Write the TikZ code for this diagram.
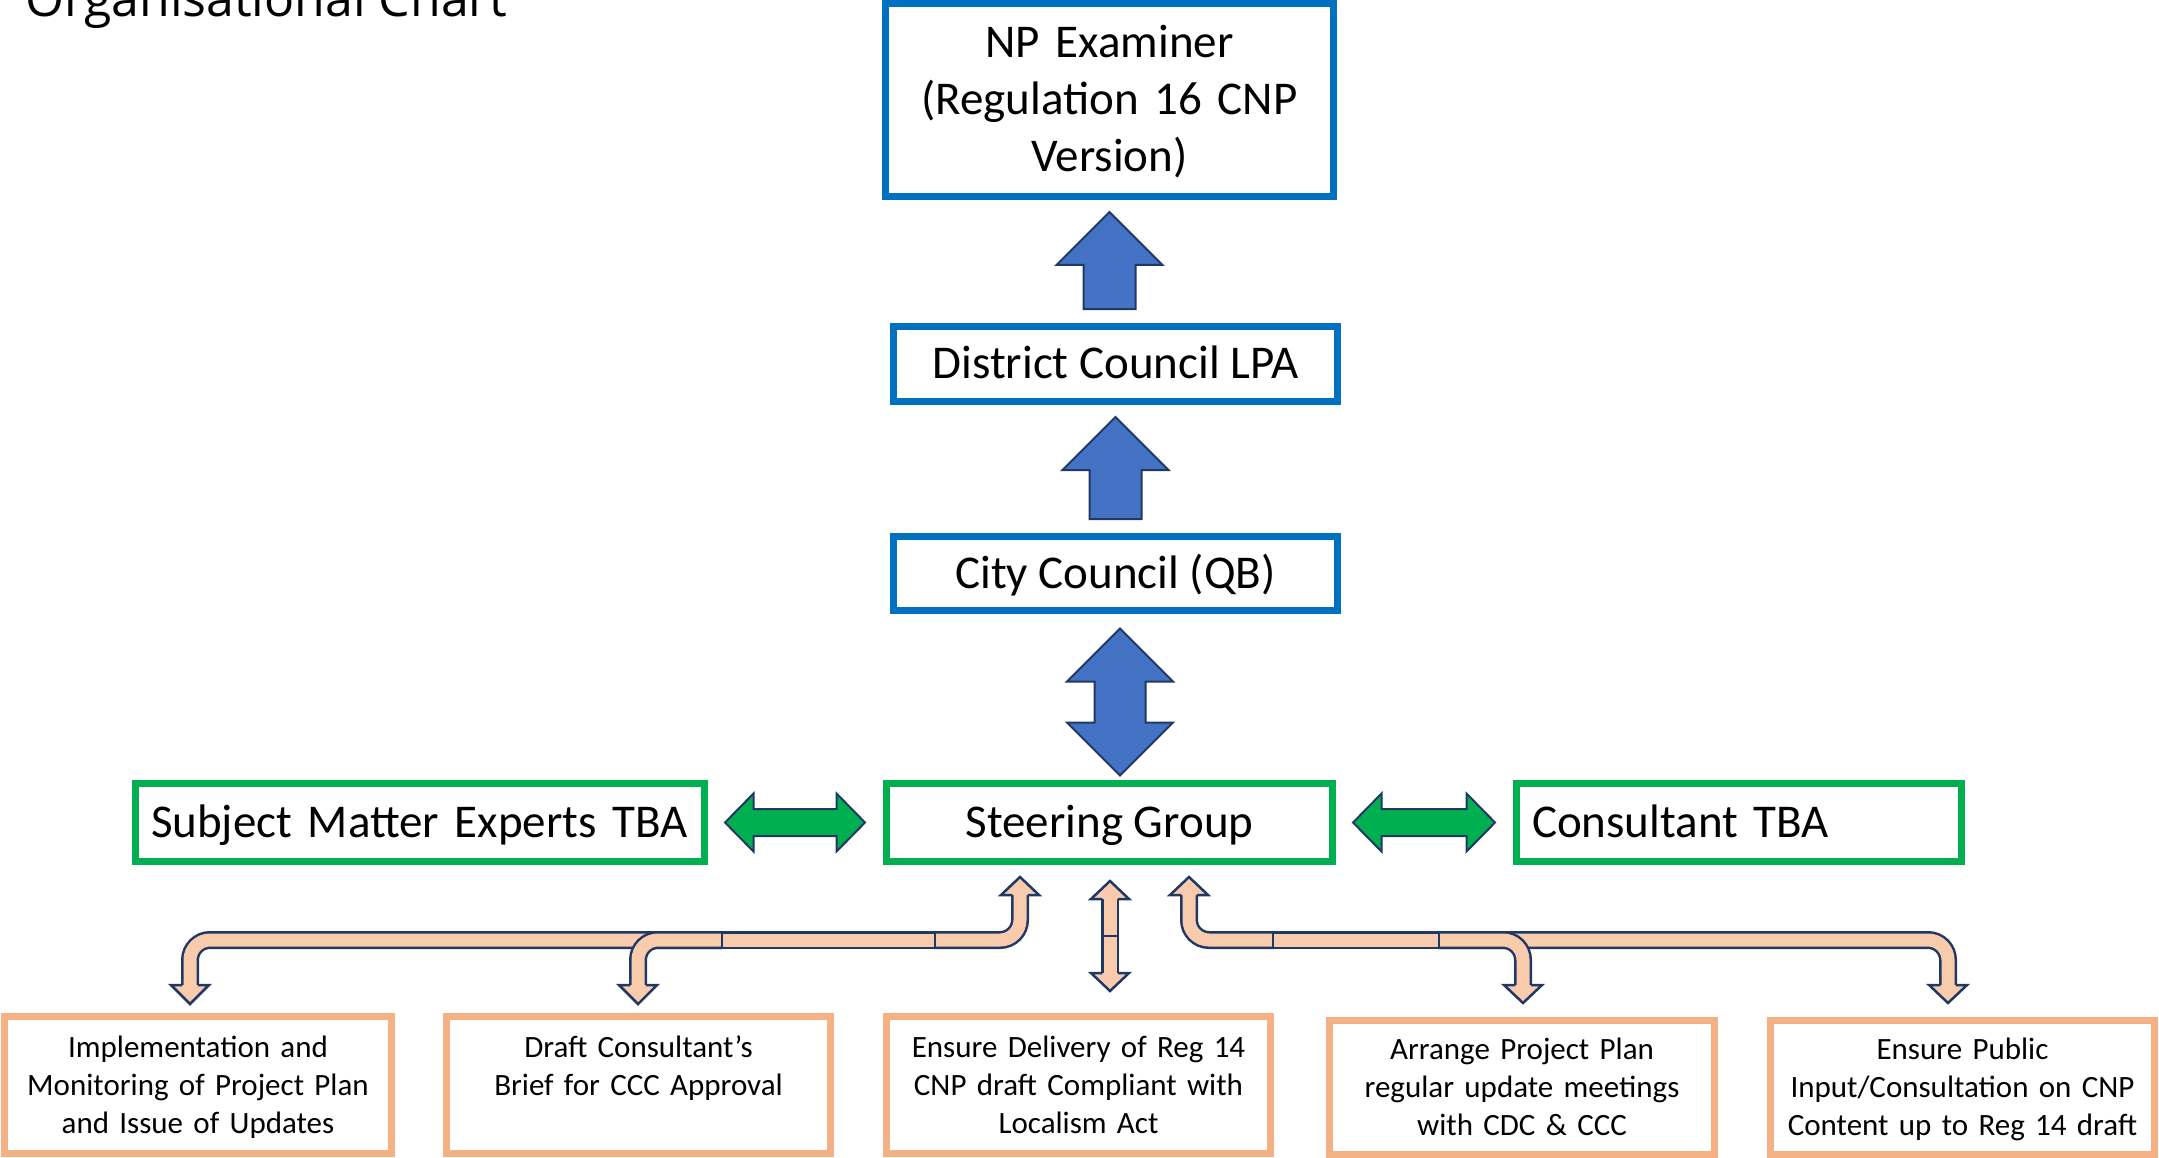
\documentclass[tikz,border=0pt]{standalone}
\usepackage{fontspec}
\setmainfont{Carlito}
\newfontfamily\titlefont{Open Sans}
\usetikzlibrary{calc}
\definecolor{bluebd}{HTML}{0070C0}
\definecolor{bluearrow}{HTML}{4472C4}
\definecolor{navy}{HTML}{1F3864}
\definecolor{greenc}{HTML}{00B050}
\definecolor{orangebd}{HTML}{F4B183}
\definecolor{peach}{HTML}{F8CBAD}

\newcommand\blockUp[2]{%
 \filldraw[blockarrow] let \p1=(#1.south), \p2=(#2.north) in
 ({\x1-26pt},{\y2+14pt}) -- ({\x1-26pt},{\y1-65pt}) -- ({\x1-53pt},{\y1-65pt}) -- (\x1,{\y1-12pt})
 -- ({\x1+53pt},{\y1-65pt}) -- ({\x1+26pt},{\y1-65pt}) -- ({\x1+26pt},{\y2+14pt}) -- cycle;}
\newcommand\blockBoth[2]{%
 \filldraw[blockarrow] let \p1=($(#1.south)+(4.5,0)$), \p2=(#2.north) in
 ({\x1-25.5pt},{\y1-67.5pt}) -- ({\x1-53pt},{\y1-67.5pt}) -- (\x1,{\y1-14.5pt}) -- ({\x1+53pt},{\y1-67.5pt})
 -- ({\x1+25.5pt},{\y1-67.5pt}) -- ({\x1+25.5pt},{\y2+57.5pt}) -- ({\x1+53pt},{\y2+57.5pt}) -- (\x1,{\y2+4.5pt})
 -- ({\x1-53pt},{\y2+57.5pt}) -- ({\x1-25.5pt},{\y2+57.5pt}) -- cycle;}
\newcommand\greenBoth[2]{%
 \filldraw[greenarrow] let \p1=(#1.east), \p2=(#2.west) in
 ({\x1+17pt},\y2) -- ({\x1+45.5pt},{\y2+29pt}) -- ({\x1+45.5pt},{\y2+13.5pt}) -- ({\x2-46.5pt},{\y2+13.5pt})
 -- ({\x2-46.5pt},{\y2+29pt}) -- ({\x2-18pt},\y2) -- ({\x2-46.5pt},{\y2-29pt}) -- ({\x2-46.5pt},{\y2-13.5pt})
 -- ({\x1+45.5pt},{\y2-13.5pt}) -- ({\x1+45.5pt},{\y2-29pt}) -- cycle;}
\newcommand\phead[3]{\filldraw[phead] (#1-7.75,#2) -- (#1-19,#2) -- (#1,#3) -- (#1+19,#2) -- (#1+7.75,#2);}

\begin{document}
\begin{tikzpicture}[x=1pt,y=-1pt,
  box/.style={draw, line width=7pt, inner sep=0pt, align=center},
  bigtext/.style={font=\fontsize{47}{57}\selectfont, text height=40pt, text depth=11pt},
  bluebox/.style={box, draw=bluebd, bigtext},
  greenbox/.style={box, draw=greenc, bigtext},
  taskbox/.style={box, draw=orangebd, font=\fontsize{31}{38}\selectfont, text width=380pt, text height=22pt, text depth=78pt},
  blockarrow/.style={fill=bluearrow, draw=navy, line width=2pt, line join=miter},
  greenarrow/.style={fill=greenc, draw=navy, line width=2pt, line join=miter},
  tube/.style={draw=navy, double=peach, double distance=13pt, line width=2.5pt, rounded corners=20pt},
  phead/.style={fill=peach, draw=navy, line width=2.5pt, line join=miter},
  sepline/.style={draw=navy, line width=2.5pt}]
\useasboundingbox (0,0) rectangle (2159,1158);
\clip (0,0) rectangle (2159,1158);

\node[anchor=base west, font=\titlefont\fontsize{50}{60}\selectfont, inner sep=0pt] (title) at (25,17) {Organisational Chart};

\node[bluebox, minimum width=448pt, minimum height=193pt, text width=440pt, text height=35pt, text depth=119pt] (np) at (1109.5,100) {NP Examiner\\(Regulation 16 CNP\\Version)};
\node[bluebox, minimum width=444pt, minimum height=75pt] (lpa) at (1115.5,364) {District Council LPA};
\node[bluebox, minimum width=444pt, minimum height=74pt] (city) at (1115.5,573.5) {City Council (QB)};
\node[greenbox, minimum width=446pt, minimum height=78pt] (sg) at (1109.5,822.5) {Steering Group};
\node[greenbox, minimum width=569pt, minimum height=78pt, text width=538pt, align=left, inner xsep=15.5pt] (sme) at (420,822.5) {Subject Matter Experts TBA};
\node[greenbox, minimum width=445pt, minimum height=78pt, text width=414pt, align=left, inner xsep=15.5pt] (cons) at (1739,822.5) {Consultant TBA};

\node[taskbox, minimum width=387pt, minimum height=137pt] (t1) at (198,1085) {Implementation and\\Monitoring of Project Plan\\and Issue of Updates};
\node[taskbox, minimum width=384pt, minimum height=137pt] (t2) at (638.5,1085) {Draft Consultant’s\\Brief for CCC Approval};
\node[taskbox, minimum width=384pt, minimum height=137pt] (t3) at (1078.5,1085) {Ensure Delivery of Reg 14\\CNP draft Compliant with\\Localism Act};
\node[taskbox, minimum width=385pt, minimum height=134pt] (t4) at (1522,1087.5) {Arrange Project Plan\\regular update meetings\\with CDC \& CCC};
\node[taskbox, minimum width=384pt, minimum height=134pt] (t5) at (1962.5,1087.5) {Ensure Public\\Input/Consultation on CNP\\Content up to Reg 14 draft};

\blockUp{np}{lpa}
\blockUp{lpa}{city}
\blockBoth{city}{sg}
\greenBoth{sme}{sg}
\greenBoth{sg}{cons}

% peach connectors, left group
\coordinate (lupA) at (1020,895);
\coordinate (lsepA) at (935,940);
\coordinate (lsepB) at (722,940);
\coordinate (ldn1) at (190,985);
\coordinate (ldn2) at (638,985);
\draw[tube] (lsepB) -- (190,940) -- (ldn1);
\draw[tube] (lsepB) -- (638,940) -- (ldn2);
\draw[tube] (lsepA) -- (lsepB);
\draw[tube] (lupA) -- (1020,940) -- (lsepA);
\draw[sepline] (722,932) -- (722,948);
\draw[sepline] (935,932) -- (935,948);
\phead{1020}{895}{877}
\phead{190}{985}{1004}
\phead{638}{985}{1004}

% middle
\coordinate (mtop) at (1110,899);
\coordinate (mbot) at (1110,973);
\draw[tube] (mtop) -- (mbot);
\draw[sepline] (1102,936) -- (1118,936);
\phead{1110}{899}{881}
\phead{1110}{973}{991}

% right group
\coordinate (rupA) at (1189,895);
\coordinate (rsepA) at (1273,940);
\coordinate (rsepB) at (1439,940);
\coordinate (rdn1) at (1523,985);
\coordinate (rdn2) at (1948,985);
\draw[tube] (rsepB) -- (1948,940) -- (rdn2);
\draw[tube] (rsepB) -- (1523,940) -- (rdn1);
\draw[tube] (rsepA) -- (rsepB);
\draw[tube] (rupA) -- (1189,940) -- (rsepA);
\draw[sepline] (1273,932) -- (1273,948);
\draw[sepline] (1439,932) -- (1439,948);
\phead{1189}{895}{877}
\phead{1523}{985}{1003}
\phead{1948}{985}{1003}
\end{tikzpicture}
\end{document}
